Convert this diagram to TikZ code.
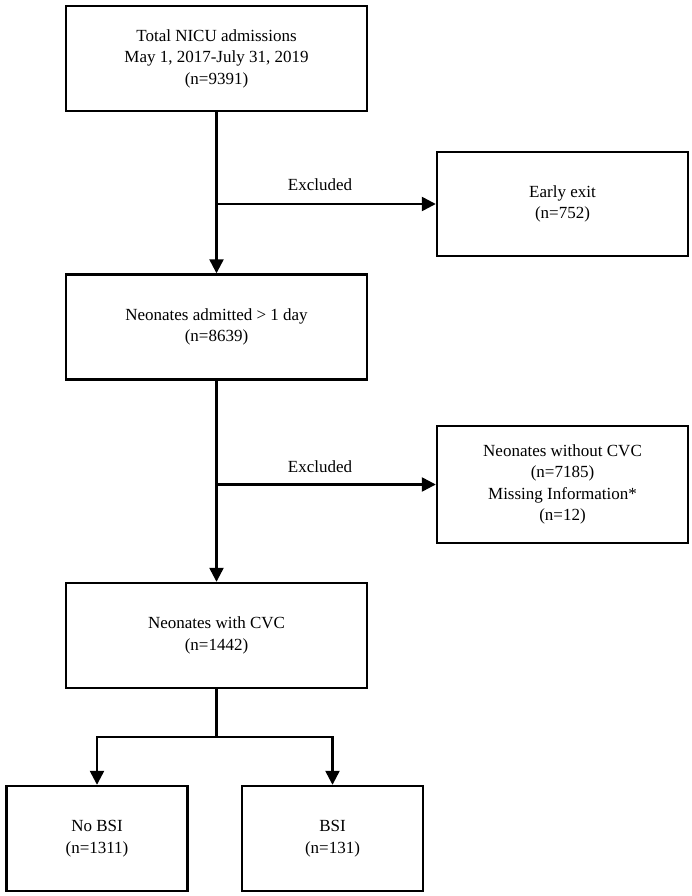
\documentclass[tikz,border=0pt]{standalone}
\usepackage{fontspec}
\setmainfont{Liberation Serif}
\usetikzlibrary{arrows.meta}
\begin{document}
\begin{tikzpicture}[x=1pt,y=-1pt,
  every node/.style={font=\fontsize{17}{21.5}\selectfont},
  box/.style={draw, line width=2.4pt, align=center, inner sep=0pt},
  bigbox/.style={box, minimum width=301pt, minimum height=105pt},
  sidebox/.style={box, minimum width=251pt},
  leafbox/.style={box, minimum width=181pt, minimum height=105pt},
  line/.style={line width=2.4pt},
  arr/.style={line, -{Triangle[length=14pt,width=14pt]}},
  lbl/.style={inner sep=0pt}]
\useasboundingbox (0,0) rectangle (692,896);
\node[bigbox] (b1) at (216.5,58.5) {Total NICU admissions\\May 1, 2017-July 31, 2019\\(n=9391)};
\node[sidebox, minimum height=104pt] (ee) at (562.5,204) {Early exit\\(n=752)};
\node[bigbox] (b2) at (216.5,327) {Neonates admitted > 1 day\\(n=8639)};
\node[sidebox, minimum height=117pt] (nc) at (562.5,484.5) {Neonates without CVC\\(n=7185)\\Missing Information*\\(n=12)};
\node[bigbox] (b3) at (216.5,635.5) {Neonates with CVC\\(n=1442)};
\node[leafbox] (nb) at (97,838.5) {No BSI\\(n=1311)};
\node[leafbox] (bsi) at (332.5,838.5) {BSI\\(n=131)};
\coordinate (j1) at (216.5,204);
\coordinate (j2) at (216.5,484.5);
\coordinate (s) at (216.5,737);
\node[lbl] (x1) at (320,185) {Excluded};
\node[lbl] (x2) at (320,467) {Excluded};
\draw[arr] (b1) -- (b2);
\draw[arr] (j1) -- (ee);
\draw[arr] (b2) -- (b3);
\draw[arr] (j2) -- (nc);
\draw[line] (b3) -- (s);
\draw[arr] (s) -| (nb);
\draw[arr] (s) -| (bsi);
\end{tikzpicture}
\end{document}
